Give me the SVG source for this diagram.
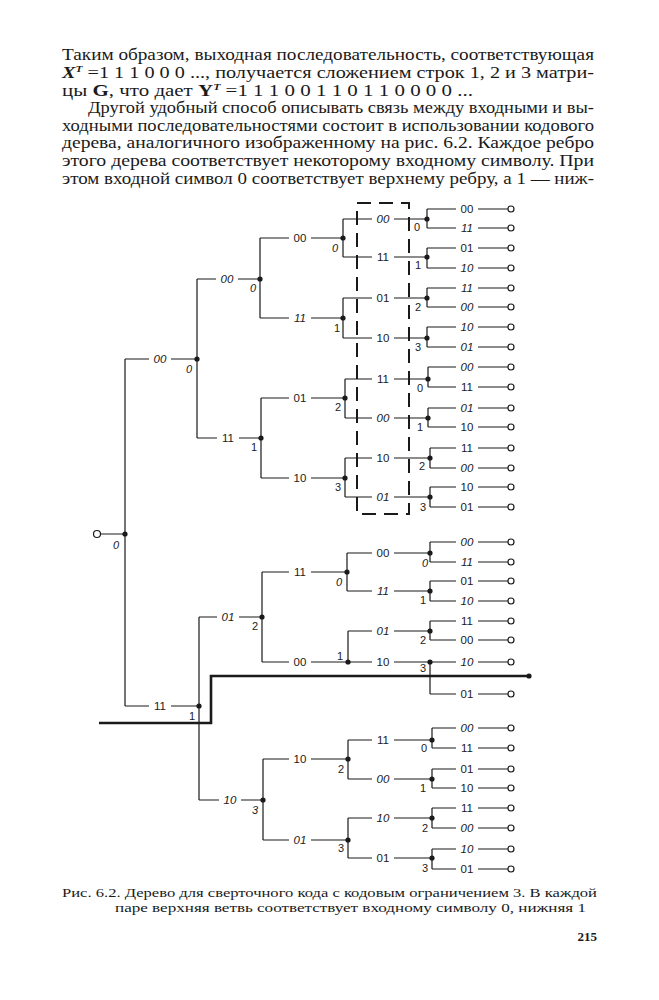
<svg xmlns="http://www.w3.org/2000/svg" width="659" height="1000" viewBox="0 0 659 1000">
<style>
.body{font-family:"Liberation Serif","DejaVu Serif",serif;font-size:16px;fill:#1a1a1a}
.cap{font-family:"Liberation Serif","DejaVu Serif",serif;font-size:13px;fill:#1a1a1a}
.lb{font-family:"Liberation Sans","DejaVu Sans",sans-serif;font-size:11.5px;fill:#1a1a1a;text-anchor:middle}
.it{font-style:italic}
.n{font-family:"Liberation Sans","DejaVu Sans",sans-serif;font-size:11px;fill:#1a1a1a;text-anchor:middle}
.ln{fill:none;stroke:#1a1a1a;stroke-width:1.2}
.dot{fill:#1a1a1a}
.leaf{fill:#fff;stroke:#1a1a1a;stroke-width:1.2}
.box{fill:none;stroke:#1a1a1a;stroke-width:2;stroke-dasharray:14 8}
.thick{fill:none;stroke:#1a1a1a;stroke-width:2.6}
</style>
<rect width="659" height="1000" fill="#fff"/>
<g id="text">
<text class="body" x="62" y="60" textLength="532" lengthAdjust="spacingAndGlyphs">Таким образом, выходная  последовательность,  соответствующая</text>
<text class="body" x="62" y="78" textLength="532" lengthAdjust="spacingAndGlyphs"><tspan font-style="italic" font-weight="bold">X</tspan><tspan font-size="9" font-style="italic" font-weight="bold" dy="-6">T</tspan><tspan dy="6"> =1 1 1 0 0 0 ..., получается сложением строк 1, 2 и 3 матри-</tspan></text>
<text class="body" x="62" y="96" textLength="411" lengthAdjust="spacingAndGlyphs">цы <tspan font-weight="bold">G</tspan>, что дает <tspan font-weight="bold">Y</tspan><tspan font-size="9" font-style="italic" font-weight="bold" dy="-6">T</tspan><tspan dy="6"> =1 1 1 0 0 1 1 0 1 1 0 0 0 0 ...</tspan></text>
<text class="body" x="88" y="113" textLength="506" lengthAdjust="spacingAndGlyphs">Другой удобный способ описывать связь между входными и вы-</text>
<text class="body" x="62" y="131" textLength="532" lengthAdjust="spacingAndGlyphs">ходными последовательностями состоит в использовании кодового</text>
<text class="body" x="62" y="148" textLength="532" lengthAdjust="spacingAndGlyphs">дерева, аналогичного  изображенному на рис. 6.2. Каждое ребро</text>
<text class="body" x="62" y="166" textLength="532" lengthAdjust="spacingAndGlyphs">этого дерева  соответствует  некоторому входному символу. При</text>
<text class="body" x="62" y="184" textLength="532" lengthAdjust="spacingAndGlyphs">этом входной символ 0 соответствует верхнему ребру, а 1 — ниж-</text>
<text class="cap" x="62" y="897" textLength="535" lengthAdjust="spacingAndGlyphs">Рис. 6.2. Дерево для сверточного кода с кодовым ограничением 3. В каждой</text>
<text class="cap" x="115" y="912" textLength="471" lengthAdjust="spacingAndGlyphs">паре верхняя ветвь соответствует входному символу 0, нижняя 1</text>
<text class="cap" x="597" y="941" text-anchor="end" font-weight="bold" font-size="13">215</text>
</g>
<g id="connectors">
<path class="ln" d="M100.5 534H125 M125 359V706 M125 359H149 M171 359H197 M125 706H149 M171 706H199"/>
<path class="ln" d="M197 279V438 M199 617V800 M197 279H216 M238 279H260 M197 438H217 M239 438H261 M199 617H217 M239 617H262 M199 800H219 M241 800H263"/>
<path class="ln" d="M260 238V318 M261 398V478 M262 572V662 M263 759V840 M260 238H289 M311 238H343 M260 318H289 M311 318H343 M261 398H289 M311 398H345 M261 478H289 M311 478H345 M262 572H289 M311 572H347 M262 662H289 M311 662H348 M263 759H289 M311 759H348 M263 840H289 M311 840H348"/>
<path class="ln" d="M343 219V257 M343 219H372 M394 219H427 M343 257H372 M394 257H427 M343 298V338 M343 298H372 M394 298H427 M343 338H372 M394 338H427 M345 379V418 M345 379H372 M394 379H428 M345 418H372 M394 418H428 M345 458V497 M345 458H372 M394 458H430 M345 497H372 M394 497H430 M347 553V591 M347 553H372 M394 553H430 M347 591H372 M394 591H430 M348 631V662 M348 631H372 M394 631H430 M348 662H372 M394 662H430 M348 740V779 M348 740H372 M394 740H432 M348 779H372 M394 779H432 M348 818V858 M348 818H372 M394 818H432 M348 858H372 M394 858H432"/>
<path class="ln" d="M427 209V228 M427 209H456 M478 209H508 M427 228H456 M478 228H508 M427 248V268 M427 248H456 M478 248H508 M427 268H456 M478 268H508 M427 288V307 M427 288H456 M478 288H508 M427 307H456 M478 307H508 M427 327V347 M427 327H456 M478 327H508 M427 347H456 M478 347H508 M428 367V387 M428 367H456 M478 367H508 M428 387H456 M478 387H508 M428 408V427 M428 408H456 M478 408H508 M428 427H456 M478 427H508 M430 448V468 M430 448H456 M478 448H508 M430 468H456 M478 468H508 M430 487V507 M430 487H456 M478 487H508 M430 507H456 M478 507H508"/>
<path class="ln" d="M430 542V562 M430 542H456 M478 542H508 M430 562H456 M478 562H508 M430 581V601 M430 581H456 M478 581H508 M430 601H456 M478 601H508 M430 621V640 M430 621H456 M478 621H508 M430 640H456 M478 640H508 M430 662V694 M430 662H456 M478 662H508 M430 694H456 M478 694H508 M432 728V748 M432 728H456 M478 728H508 M432 748H456 M478 748H508 M432 769V788 M432 769H456 M478 769H508 M432 788H456 M478 788H508 M432 808V828 M432 808H456 M478 808H508 M432 828H456 M478 828H508 M432 849V869 M432 849H456 M478 849H508 M432 869H456 M478 869H508"/>
<polyline class="thick" points="99,723 211,723 211,676 529,676"/>
<circle class="dot" cx="529" cy="676" r="2.6"/>
<rect class="box" x="357" y="203" width="52" height="311"/>
</g>
<g id="edge-labels">
<text class="lb it" x="160" y="363">00</text><text class="lb" x="160" y="710">11</text>
<text class="lb it" x="227" y="283">00</text><text class="lb" x="228" y="442">11</text><text class="lb it" x="228" y="621">01</text><text class="lb it" x="230" y="804">10</text>
<text class="lb" x="300" y="242">00</text><text class="lb it" x="300" y="322">11</text><text class="lb" x="300" y="402">01</text><text class="lb" x="300" y="482">10</text>
<text class="lb" x="300" y="576">11</text><text class="lb" x="300" y="666">00</text><text class="lb" x="300" y="763">10</text><text class="lb it" x="300" y="844">01</text>
<text class="lb it" x="383" y="223">00</text><text class="lb" x="383" y="261">11</text><text class="lb" x="383" y="302">01</text><text class="lb" x="383" y="342">10</text>
<text class="lb" x="383" y="383">11</text><text class="lb it" x="383" y="422">00</text><text class="lb" x="383" y="462">10</text><text class="lb it" x="383" y="501">01</text>
<text class="lb" x="383" y="557">00</text><text class="lb it" x="383" y="595">11</text><text class="lb it" x="383" y="635">01</text><text class="lb" x="383" y="666">10</text>
<text class="lb" x="383" y="744">11</text><text class="lb it" x="383" y="783">00</text><text class="lb it" x="383" y="822">10</text><text class="lb" x="383" y="862">01</text>
<text class="lb" x="467" y="213">00</text><text class="lb it" x="467" y="232">11</text><text class="lb" x="467" y="252">01</text><text class="lb it" x="467" y="272">10</text>
<text class="lb it" x="467" y="292">11</text><text class="lb it" x="467" y="311">00</text><text class="lb it" x="467" y="331">10</text><text class="lb it" x="467" y="351">01</text>
<text class="lb it" x="467" y="371">00</text><text class="lb" x="467" y="391">11</text><text class="lb it" x="467" y="412">01</text><text class="lb" x="467" y="431">10</text>
<text class="lb" x="467" y="452">11</text><text class="lb it" x="467" y="472">00</text><text class="lb" x="467" y="491">10</text><text class="lb" x="467" y="511">01</text>
<text class="lb it" x="467" y="546">00</text><text class="lb it" x="467" y="566">11</text><text class="lb" x="467" y="585">01</text><text class="lb it" x="467" y="605">10</text>
<text class="lb" x="467" y="625">11</text><text class="lb" x="467" y="644">00</text><text class="lb it" x="467" y="666">10</text><text class="lb" x="467" y="698">01</text>
<text class="lb it" x="467" y="732">00</text><text class="lb" x="467" y="752">11</text><text class="lb" x="467" y="773">01</text><text class="lb" x="467" y="792">10</text>
<text class="lb" x="467" y="812">11</text><text class="lb it" x="467" y="832">00</text><text class="lb it" x="467" y="853">10</text><text class="lb" x="467" y="873">01</text>
</g>
<g id="root"><circle class="leaf" cx="97" cy="534" r="3.5"/><circle class="dot" cx="125" cy="534" r="2.6"/><text class="n it" x="116" y="549">0</text></g>
<g id="n1-0"><circle class="dot" cx="197" cy="359" r="2.6"/><text class="n it" x="189" y="373">0</text></g>
<g id="n1-1"><circle class="dot" cx="199" cy="706" r="2.6"/><text class="n" x="192" y="720">1</text></g>
<g id="n2-0"><circle class="dot" cx="260" cy="279" r="2.6"/><text class="n it" x="253" y="292">0</text></g>
<g id="n2-1"><circle class="dot" cx="261" cy="438" r="2.6"/><text class="n" x="254" y="451">1</text></g>
<g id="n2-2"><circle class="dot" cx="262" cy="617" r="2.6"/><text class="n" x="255" y="630">2</text></g>
<g id="n2-3"><circle class="dot" cx="263" cy="800" r="2.6"/><text class="n it" x="255" y="814">3</text></g>
<g id="n3-0"><circle class="dot" cx="343" cy="238" r="2.6"/><text class="n it" x="335" y="252">0</text></g>
<g id="n3-1"><circle class="dot" cx="343" cy="318" r="2.6"/><text class="n" x="337" y="332">1</text></g>
<g id="n3-2"><circle class="dot" cx="345" cy="398" r="2.6"/><text class="n" x="338" y="411">2</text></g>
<g id="n3-3"><circle class="dot" cx="345" cy="478" r="2.6"/><text class="n" x="338" y="491">3</text></g>
<g id="n3-4"><circle class="dot" cx="347" cy="572" r="2.6"/><text class="n it" x="339" y="586">0</text></g>
<g id="n3-5"><circle class="dot" cx="348" cy="662" r="2.6"/><text class="n" x="340" y="660">1</text></g>
<g id="n3-6"><circle class="dot" cx="348" cy="759" r="2.6"/><text class="n" x="341" y="773">2</text></g>
<g id="n3-7"><circle class="dot" cx="348" cy="840" r="2.6"/><text class="n" x="341" y="852">3</text></g>
<g id="n4-0"><circle class="dot" cx="427" cy="219" r="2.6"/><text class="n" x="417" y="231">0</text></g>
<g id="n4-1"><circle class="dot" cx="427" cy="257" r="2.6"/><text class="n" x="418" y="269">1</text></g>
<g id="n4-2"><circle class="dot" cx="427" cy="298" r="2.6"/><text class="n" x="418" y="311">2</text></g>
<g id="n4-3"><circle class="dot" cx="427" cy="338" r="2.6"/><text class="n" x="418" y="351">3</text></g>
<g id="n4-4"><circle class="dot" cx="428" cy="379" r="2.6"/><text class="n" x="420" y="392">0</text></g>
<g id="n4-5"><circle class="dot" cx="428" cy="418" r="2.6"/><text class="n" x="420" y="431">1</text></g>
<g id="n4-6"><circle class="dot" cx="430" cy="458" r="2.6"/><text class="n" x="422" y="470">2</text></g>
<g id="n4-7"><circle class="dot" cx="430" cy="497" r="2.6"/><text class="n" x="423" y="511">3</text></g>
<g id="n4-8"><circle class="dot" cx="430" cy="553" r="2.6"/><text class="n it" x="425" y="567">0</text></g>
<g id="n4-9"><circle class="dot" cx="430" cy="591" r="2.6"/><text class="n" x="423" y="604">1</text></g>
<g id="n4-10"><circle class="dot" cx="430" cy="631" r="2.6"/><text class="n" x="423" y="644">2</text></g>
<g id="n4-11"><circle class="dot" cx="430" cy="662" r="2.6"/><text class="n" x="423" y="672">3</text></g>
<g id="n4-12"><circle class="dot" cx="432" cy="740" r="2.6"/><text class="n" x="424" y="752">0</text></g>
<g id="n4-13"><circle class="dot" cx="432" cy="779" r="2.6"/><text class="n" x="423" y="792">1</text></g>
<g id="n4-14"><circle class="dot" cx="432" cy="818" r="2.6"/><text class="n" x="425" y="832">2</text></g>
<g id="n4-15"><circle class="dot" cx="432" cy="858" r="2.6"/><text class="n" x="425" y="872">3</text></g>
<g id="leaves">
<circle class="leaf" cx="511" cy="209" r="3"/><circle class="leaf" cx="511" cy="228" r="3"/><circle class="leaf" cx="511" cy="248" r="3"/><circle class="leaf" cx="511" cy="268" r="3"/>
<circle class="leaf" cx="511" cy="288" r="3"/><circle class="leaf" cx="511" cy="307" r="3"/><circle class="leaf" cx="511" cy="327" r="3"/><circle class="leaf" cx="511" cy="347" r="3"/>
<circle class="leaf" cx="511" cy="367" r="3"/><circle class="leaf" cx="511" cy="387" r="3"/><circle class="leaf" cx="511" cy="408" r="3"/><circle class="leaf" cx="511" cy="427" r="3"/>
<circle class="leaf" cx="511" cy="448" r="3"/><circle class="leaf" cx="511" cy="468" r="3"/><circle class="leaf" cx="511" cy="487" r="3"/><circle class="leaf" cx="511" cy="507" r="3"/>
<circle class="leaf" cx="511" cy="542" r="3"/><circle class="leaf" cx="511" cy="562" r="3"/><circle class="leaf" cx="511" cy="581" r="3"/><circle class="leaf" cx="511" cy="601" r="3"/>
<circle class="leaf" cx="511" cy="621" r="3"/><circle class="leaf" cx="511" cy="640" r="3"/><circle class="leaf" cx="511" cy="662" r="3"/><circle class="leaf" cx="511" cy="694" r="3"/>
<circle class="leaf" cx="511" cy="728" r="3"/><circle class="leaf" cx="511" cy="748" r="3"/><circle class="leaf" cx="511" cy="769" r="3"/><circle class="leaf" cx="511" cy="788" r="3"/>
<circle class="leaf" cx="511" cy="808" r="3"/><circle class="leaf" cx="511" cy="828" r="3"/><circle class="leaf" cx="511" cy="849" r="3"/><circle class="leaf" cx="511" cy="869" r="3"/>
</g>
</svg>
